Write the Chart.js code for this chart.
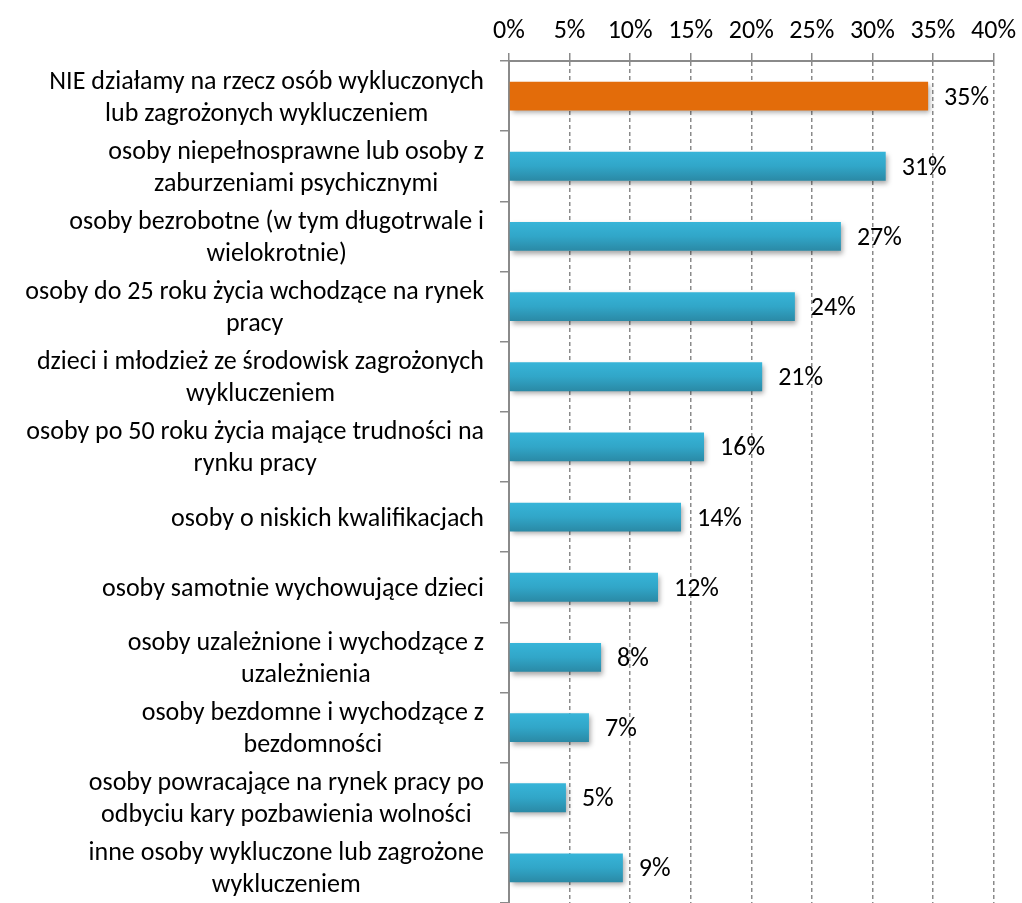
<!DOCTYPE html>
<html>
<head>
<meta charset="utf-8">
<script src="https://cdn.jsdelivr.net/npm/chart.js@4"></script>
<style>
html, body { margin: 0; padding: 0; background: #fff; }
#wrap { width: 1022px; height: 903px; }
</style>
</head>
<body>
<div id="wrap"><canvas id="chart"></canvas></div>
<script>
// category labels (already split into lines as in the picture)
var categories = [
    ['NIE działamy na rzecz osób wykluczonych', 'lub zagrożonych wykluczeniem'],
    ['osoby niepełnosprawne lub osoby z', 'zaburzeniami psychicznymi'],
    ['osoby bezrobotne (w tym długotrwale i', 'wielokrotnie)'],
    ['osoby do 25 roku życia wchodzące na rynek', 'pracy'],
    ['dzieci i młodzież ze środowisk zagrożonych', 'wykluczeniem'],
    ['osoby po 50 roku życia mające trudności na', 'rynku pracy'],
    ['osoby o niskich kwalifikacjach'],
    ['osoby samotnie wychowujące dzieci'],
    ['osoby uzależnione i wychodzące z', 'uzależnienia'],
    ['osoby bezdomne i wychodzące z', 'bezdomności'],
    ['osoby powracające na rynek pracy po', 'odbyciu kary pozbawienia wolności'],
    ['inne osoby wykluczone lub zagrożone', 'wykluczeniem']
];

// percent values
var values = [34.6, 31.1, 27.4, 23.6, 20.9, 16.1, 14.2, 12.3, 7.6, 6.6, 4.7, 9.4];

// x axis range
var xMin = 0;
var xMax = 40;
var xStep = 5;

var FONT = 'Carlito, Calibri, Lato, sans-serif';
var LABEL_SIZE = 26;
var LINE_H = 32;
var LABEL_RIGHT = 484;
var GRID = '#8a8a8a';

function barColor(c) {
    if (c.dataIndex === 0) return '#e36c0a';
    var chart = c.chart;
    var y = chart.scales.y;
    if (!y || !chart.ctx) return '#31a3c4';
    var cy = y.getPixelForTick(c.dataIndex);
    var g = chart.ctx.createLinearGradient(0, cy - 15, 0, cy + 15);
    g.addColorStop(0, '#37b5d9');
    g.addColorStop(0.5, '#31a6c8');
    g.addColorStop(1, '#2a88a4');
    return g;
}

var labelPlugin = {
    id: 'labels',
    beforeDatasetsDraw: function(chart) {
        var ctx = chart.ctx;
        ctx.save();
        ctx.shadowColor = 'rgba(0,0,0,0.35)';
        ctx.shadowBlur = 5;
        ctx.shadowOffsetX = 2;
        ctx.shadowOffsetY = 3;
    },
    afterDatasetsDraw: function(chart) {
        var ctx = chart.ctx;
        ctx.restore();
        var meta = chart.getDatasetMeta(0);
        ctx.save();
        ctx.font = LABEL_SIZE + 'px ' + FONT;
        ctx.fillStyle = '#000';
        ctx.textAlign = 'left';
        ctx.textBaseline = 'middle';
        meta.data.forEach(function(bar, i) {
            ctx.fillText(Math.round(values[i]) + '%', bar.x + 16, bar.y + 2);
        });
        ctx.restore();
    },
    afterDraw: function(chart) {
        var ctx = chart.ctx;
        var y = chart.scales.y;
        ctx.save();
        ctx.font = LABEL_SIZE + 'px ' + FONT;
        ctx.fillStyle = '#000';
        ctx.textAlign = 'center';
        ctx.textBaseline = 'middle';
        categories.forEach(function(lines, i) {
            var cy = y.getPixelForTick(i) + 2;
            var w = 0;
            lines.forEach(function(l) { w = Math.max(w, ctx.measureText(l).width); });
            var cx = LABEL_RIGHT - w / 2;
            lines.forEach(function(l, j) {
                ctx.fillText(l, cx, cy + (j - (lines.length - 1) / 2) * LINE_H);
            });
        });
        ctx.restore();
    }
};

var ctx = document.getElementById('chart').getContext('2d');
var myChart = new Chart(ctx, {
    type: 'bar',
    data: {
        labels: categories,
        datasets: [{
            data: values,
            backgroundColor: barColor,
            borderWidth: 0,
            categoryPercentage: 1,
            barPercentage: 0.41
        }]
    },
    options: {
        indexAxis: 'y',
        responsive: true,
        maintainAspectRatio: false,
        animation: false,
        layout: { padding: { left: 0, right: 27, top: 0, bottom: 0 } },
        plugins: {
            legend: { display: false },
            tooltip: { enabled: false }
        },
        scales: {
            x: {
                position: 'top',
                min: xMin,
                max: xMax,
                ticks: {
                    stepSize: xStep,
                    padding: 6,
                    color: '#000',
                    font: { family: FONT, size: LABEL_SIZE },
                    callback: function(v) { return v + '%'; }
                },
                grid: {
                    color: GRID,
                    lineWidth: 1.5,
                    tickColor: GRID,
                    tickLength: 8,
                    tickBorderDash: []
                },
                border: { color: GRID, width: 2, dash: [4, 3] },
                afterFit: function(s) { s.height = 61; }
            },
            y: {
                ticks: { display: false },
                grid: {
                    offset: true,
                    drawOnChartArea: false,
                    color: GRID,
                    lineWidth: 1.5,
                    tickLength: 9
                },
                border: { color: GRID, width: 2 },
                afterFit: function(s) { s.width = 509; }
            }
        }
    },
    plugins: [labelPlugin]
});
</script>
</body>
</html>
